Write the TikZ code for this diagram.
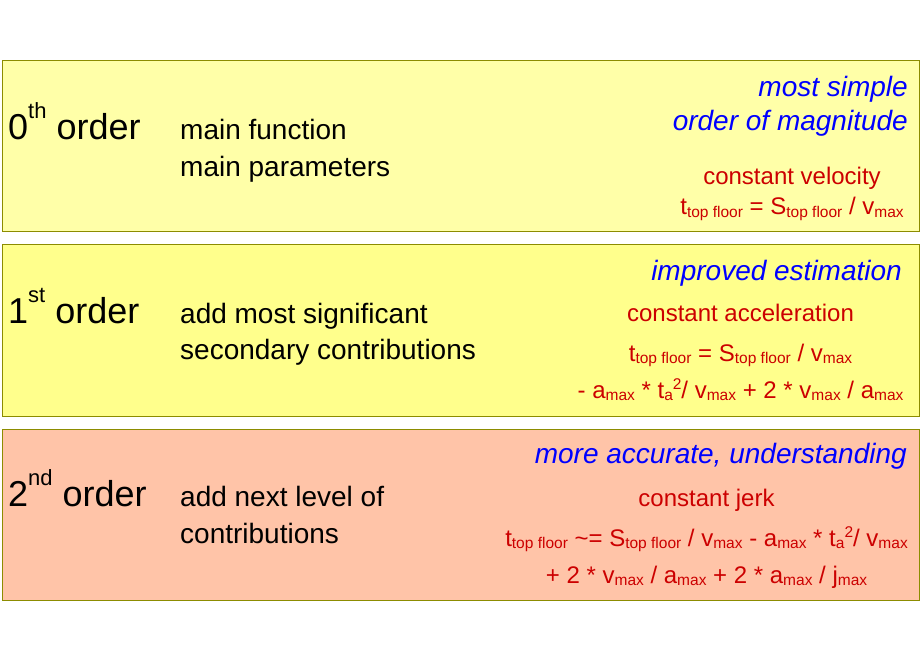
\documentclass[tikz,border=0pt]{standalone}
\usepackage{fontspec}
\setmainfont{Liberation Sans}
\definecolor{bandline}{HTML}{8C8C00}
\definecolor{zerotint}{HTML}{FFFFA8}
\definecolor{firsttint}{HTML}{FFFF8C}
\definecolor{secondtint}{HTML}{FFC4A8}
\definecolor{goalblue}{HTML}{0000FF}
\definecolor{modelred}{HTML}{CC0000}
\newcommand{\lo}[1]{\raisebox{-2pt}{\fontsize{15.5}{18}\selectfont #1}}
\newcommand{\hi}[1]{\raisebox{9pt}{\fontsize{15.5}{18}\selectfont #1}}
\newcommand{\ordsup}[1]{\raisebox{21pt}{\fontsize{22}{26}\selectfont #1}}

\begin{document}
\begin{tikzpicture}[
    x=1pt, y=-1pt,
    inner sep=0pt,
    band/.style={draw=bandline, line width=1pt, minimum width=917pt, minimum height=171pt},
    order/.style={anchor=base west, font=\fontsize{36}{42}\selectfont},
    task/.style={anchor=base west, font=\fontsize{28}{34}\selectfont},
    goal/.style={anchor=base east, text=goalblue, font=\fontsize{28}{34}\selectfont\itshape},
    model/.style={anchor=base, text=modelred, font=\fontsize{24}{29}\selectfont}
]
  \useasboundingbox (0,0) rectangle (920,660);

  % zeroth order
  \node[band, fill=zerotint] (b0) at (460.5,146.5) {};
  \node[order] (o0) at (8,140) {0\ordsup{th} order};
  \node[task] (t0a) at (180,140) {main function};
  \node[task] (t0b) at (180,176.5) {main parameters};
  \node[goal] (g0a) at (908,96.5) {most simple};
  \node[goal] (g0b) at (908,131) {order of magnitude};
  \node[model] (m0a) at (792,185) {constant velocity};
  \node[model] (m0b) at (792,215) {t\lo{top floor} = S\lo{top floor} / v\lo{max}};

  % first order
  \node[band, fill=firsttint] (b1) at (460.5,330.5) {};
  \node[order] (o1) at (8,323) {1\ordsup{st} order};
  \node[task] (t1a) at (180,323) {add most significant};
  \node[task] (t1b) at (180,359) {secondary contributions};
  \node[goal] (g1) at (902,280) {improved estimation};
  \node[model] (m1a) at (740.5,321.7) {constant acceleration};
  \node[model] (m1b) at (740.5,361.7) {t\lo{top floor} = S\lo{top floor} / v\lo{max}};
  \node[model] (m1c) at (740.5,398) {- a\lo{max} * t\lo{a}\hi{2}/ v\lo{max} + 2 * v\lo{max} / a\lo{max}};

  % second order
  \node[band, fill=secondtint] (b2) at (460.5,514.5) {};
  \node[order] (o2) at (8,506.7) {2\ordsup{nd} order};
  \node[task] (t2a) at (180,506.7) {add next level of};
  \node[task] (t2b) at (180,543) {contributions};
  \node[goal] (g2) at (907,463) {more accurate, understanding};
  \node[model] (m2a) at (706.5,506) {constant jerk};
  \node[model] (m2b) at (706.5,546.7) {t\lo{top floor} \textasciitilde= S\lo{top floor} / v\lo{max} - a\lo{max} * t\lo{a}\hi{2}/ v\lo{max}};
  \node[model] (m2c) at (706.5,583) {+ 2 * v\lo{max} / a\lo{max} + 2 * a\lo{max} / j\lo{max}};
\end{tikzpicture}
\end{document}
